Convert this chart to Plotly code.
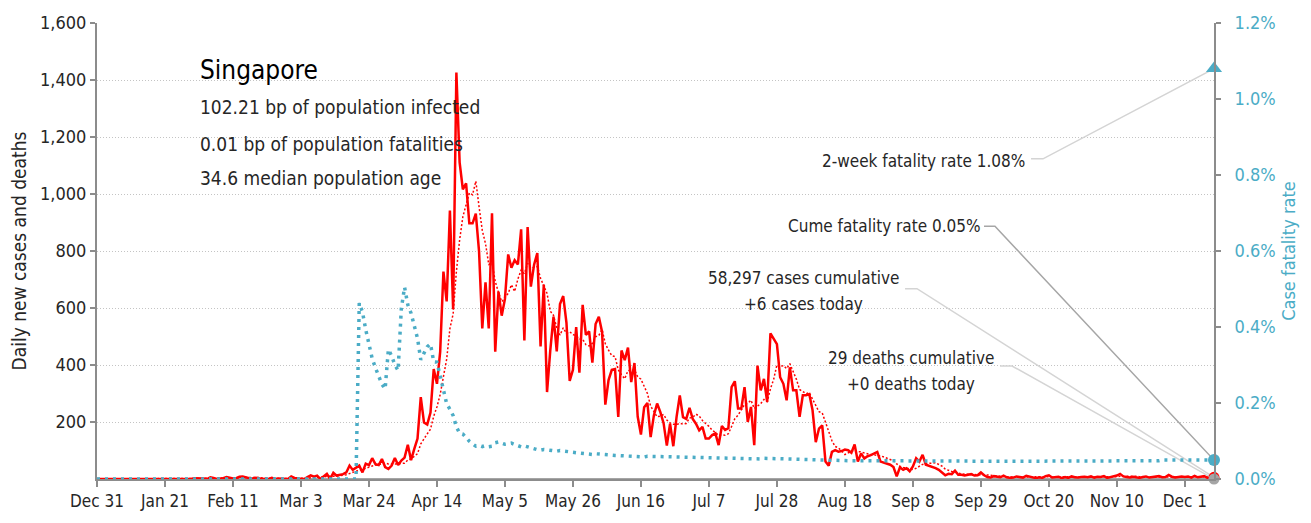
import pandas as pd
import plotly.graph_objects as go

# ---- data -------------------------------------------------------------
start_date = "2019-12-31"
end_date = "2020-12-10"

cases_dec2019 = [0]
cases_jan = [0, 0, 0, 0, 0, 0, 0, 0, 0, 0, 0, 0, 0, 0, 0, 0, 0, 0, 0, 0,
             0, 0, 1, 2, 0, 1, 1, 2, 0, 3, 3]
cases_feb = [3, 2, 0, 6, 4, 0, 2, 3, 7, 5, 2, 3, 8, 9, 5, 3, 2, 4, 3, 0,
             1, 0, 4, 0, 2, 2, 0, 0, 9]
cases_mar = [4, 2, 2, 0, 7, 13, 8, 12, 0, 10, 18, 0, 22, 12, 14, 17, 23, 47, 32, 40,
             47, 23, 54, 49, 73, 52, 49, 70, 42, 35, 47]
cases_apr = [74, 49, 65, 75, 120, 66, 106, 142, 287, 198, 191, 233, 386, 334, 447,
             728, 623, 942, 596, 1426, 1111, 1016, 1037, 897, 897, 931, 799, 528, 690, 528]
cases_may = [932, 447, 657, 573, 632, 788, 741, 768, 753, 876, 486, 884, 675, 752, 793,
             465, 682, 305, 451, 570, 448, 614, 642, 548, 344, 383, 533, 373, 611, 506, 518]
cases_jun = [408, 544, 569, 516, 261, 347, 383, 386, 218, 451, 417, 461, 340, 407, 219,
             156, 252, 267, 147, 223, 265, 235, 196, 117, 194, 115, 217, 293, 217, 211]
cases_jul = [250, 211, 194, 171, 183, 142, 142, 154, 160, 119, 186, 172, 178, 322, 343,
             247, 247, 322, 200, 253, 119, 398, 311, 351, 270, 511, 490, 473, 357, 334, 276]
cases_aug = [392, 311, 311, 218, 294, 294, 298, 242, 129, 177, 188, 61, 47, 95, 101,
             96, 98, 103, 101, 92, 121, 61, 90, 72, 80, 84, 89, 95, 61, 57, 55]
cases_sep = [50, 42, 9, 41, 32, 38, 27, 44, 73, 61, 85, 50, 46, 44, 38,
             32, 21, 13, 18, 17, 29, 15, 15, 12, 15, 17, 12, 13, 23, 13]
cases_oct = [7, 5, 10, 8, 6, 12, 6, 4, 5, 9, 7, 5, 11, 8, 5, 3, 6, 4, 10, 13,
             5, 6, 8, 3, 7, 4, 9, 6, 5, 7, 8]
cases_nov = [6, 9, 5, 8, 7, 10, 4, 6, 9, 12, 18, 9, 7, 5, 8, 6, 4, 7, 9, 5,
             6, 8, 10, 6, 7, 14, 8, 5, 6, 9]
cases_dec = [7, 9, 5, 11, 6, 8, 10, 4, 12, 6]

death_dates = ["2020-03-21", "2020-03-30", "2020-04-03", "2020-04-04", "2020-04-10",
               "2020-04-11", "2020-04-12", "2020-04-14", "2020-04-18", "2020-04-22",
               "2020-04-27", "2020-04-29", "2020-05-01", "2020-05-02", "2020-05-03",
               "2020-05-06", "2020-05-07", "2020-05-11", "2020-05-17", "2020-05-22",
               "2020-06-02", "2020-06-18", "2020-06-29", "2020-07-24", "2020-10-13",
               "2020-11-24"]
death_counts = [2, 1, 2, 1, 1, 1, 1, 1, 1, 1, 1, 1, 1, 2, 1, 1, 1, 1, 1, 1,
                1, 1, 1, 1, 1, 1]

two_week_fatality_rate = 0.0108

country = "Singapore"
info_lines = ["102.21 bp of population infected",
              "0.01 bp of population fatalities",
              "34.6 median population age"]

# ---- derived series ---------------------------------------------------
dates = pd.date_range(start_date, end_date, freq="D")
daily_cases = (cases_dec2019 + cases_jan + cases_feb + cases_mar + cases_apr + cases_may
               + cases_jun + cases_jul + cases_aug + cases_sep + cases_oct + cases_nov
               + cases_dec)
cases = pd.Series(daily_cases, index=dates, dtype=float)
deaths = pd.Series(0.0, index=dates)
deaths.loc[pd.to_datetime(death_dates)] = death_counts

avg7 = cases.rolling(7, min_periods=1).mean()
cum_cases = cases.cumsum()
cum_deaths = deaths.cumsum()
cfr = (cum_deaths / cum_cases.where(cum_cases > 0)).fillna(0.0)

last = dates[-1]
total_cases = int(cum_cases.iloc[-1])
total_deaths = int(cum_deaths.iloc[-1])
today_cases = int(cases.iloc[-1])
today_deaths = int(deaths.iloc[-1])
cume_rate = cfr.iloc[-1]

# ---- styling ----------------------------------------------------------
FONT = "Liberation Sans Narrow, DejaVu Sans Condensed, Arial Narrow, sans-serif"
TXT = "#262626"
RED = "#ff0000"
TEAL = "#4bacc6"
GREY = "#a5a5a5"
AXIS = "#8c8c8c"
LEAD_LIGHT = "#d4d4d4"
LEAD_DARK = "#a6a6a6"

Y_MAX = 1600
Y2_MAX = 0.012
x_start = pd.Timestamp(start_date)


def x_at(frac):
    """Date at a fraction of the x-axis span."""
    return x_start + (last - x_start) * frac


fig = go.Figure()

fig.add_trace(go.Scatter(x=dates, y=deaths, mode="lines",
                         line=dict(color=GREY, width=2), hoverinfo="skip"))
fig.add_trace(go.Scatter(x=dates, y=cases, mode="lines",
                         line=dict(color=RED, width=2.5), hoverinfo="skip"))
fig.add_trace(go.Scatter(x=dates, y=avg7, mode="lines",
                         line=dict(color=RED, width=1.5, dash="2px,2px"),
                         hoverinfo="skip"))
fig.add_trace(go.Scatter(x=dates, y=cfr, mode="lines", yaxis="y2",
                         line=dict(color=TEAL, width=3.5, dash="3px,5px"),
                         hoverinfo="skip"))

# leader lines: short horizontal stub from the label, then a diagonal to the end marker
leaders = [
    # (stub start frac, stub end frac, y frac, end value, axis, colour)
    (0.7234, 0.7341, 0.4174, today_cases, "y", LEAD_LIGHT),
    (0.8084, 0.8192, 0.2478, today_deaths, "y", LEAD_LIGHT),
    (0.7941, 0.8039, 0.5543, cume_rate, "y2", LEAD_DARK),
    (0.8362, 0.8469, 0.7022, two_week_fatality_rate, "y2", LEAD_LIGHT),
]
for f0, f1, fy, yend, ax, col in leaders:
    scale = Y_MAX if ax == "y" else Y2_MAX
    fig.add_trace(go.Scatter(
        x=[x_at(f0), x_at(f1), last], y=[fy * scale, fy * scale, yend],
        mode="lines", yaxis=ax, line=dict(color=col, width=1.5),
        hoverinfo="skip", cliponaxis=False))

# end markers
fig.add_trace(go.Scatter(x=[last], y=[today_cases], mode="markers", cliponaxis=False,
                         marker=dict(color=RED, size=11), hoverinfo="skip"))
fig.add_trace(go.Scatter(x=[last], y=[today_deaths], mode="markers", cliponaxis=False,
                         marker=dict(color=GREY, size=11), hoverinfo="skip"))
fig.add_trace(go.Scatter(x=[last], y=[cume_rate], mode="markers", yaxis="y2",
                         cliponaxis=False, marker=dict(color=TEAL, size=12),
                         hoverinfo="skip"))
fig.add_trace(go.Scatter(x=[last], y=[two_week_fatality_rate], mode="markers",
                         yaxis="y2", cliponaxis=False,
                         marker=dict(color=TEAL, size=14, symbol="triangle-up"),
                         hoverinfo="skip"))

tick_dates = pd.date_range(start_date, periods=17, freq="21D")

fig.update_layout(
    width=1311, height=523, autosize=False,
    margin=dict(l=97, r=97, t=21, b=42),
    plot_bgcolor="white", paper_bgcolor="white",
    showlegend=False,
    font=dict(family=FONT, color=TXT, size=16),
    xaxis=dict(
        range=[x_start, last], tickvals=tick_dates,
        ticktext=[d.strftime("%b %-d") for d in tick_dates],
        showgrid=False, showline=True, linecolor=AXIS, linewidth=2,
        ticks="outside", ticklen=6, tickcolor=AXIS, tickwidth=1.5,
        tickfont=dict(size=17, color=TXT), zeroline=False,
    ),
    yaxis=dict(
        range=[0, Y_MAX], tickvals=list(range(200, Y_MAX + 1, 200)),
        tickformat=",d", showgrid=True, gridcolor="#c4c4c4", griddash="1px,2px",
        gridwidth=1, showline=True, linecolor=AXIS, linewidth=2,
        ticks="outside", ticklen=5, tickcolor=AXIS, tickwidth=1.5,
        tickfont=dict(size=18, color=TXT), zeroline=False,
        title=dict(text="Daily new cases and deaths", font=dict(size=19, color=TXT),
                   standoff=8),
    ),
    yaxis2=dict(
        range=[0, Y2_MAX], overlaying="y", side="right", tickformat=".1%",
        dtick=0.002, showgrid=False, showline=True, linecolor=AXIS, linewidth=2,
        ticks="outside", ticklen=5, tickcolor=AXIS, tickwidth=1.5,
        ticklabelstandoff=10,
        tickfont=dict(size=18, color=TEAL), zeroline=False,
        title=dict(text="Case fatality rate", font=dict(size=18, color=TEAL),
                   standoff=8),
    ),
)

annotations = [
    dict(x=0.0904, y=0.8978, text=country, font=dict(size=26, color="#000000")),
    dict(x=0.0904, y=0.8152, text=info_lines[0], font=dict(size=19)),
    dict(x=0.0904, y=0.7348, text=info_lines[1], font=dict(size=19)),
    dict(x=0.0904, y=0.6609, text=info_lines[2], font=dict(size=19)),
]
for a in annotations:
    a.update(xref="paper", yref="paper", xanchor="left", yanchor="middle",
             showarrow=False)

labels = [
    dict(x=0.8326, y=0.6978, xanchor="right",
         text=f"2-week fatality rate {two_week_fatality_rate:.2%}"),
    dict(x=0.7932, y=0.5543, xanchor="right",
         text=f"Cume fatality rate {cume_rate:.2%}"),
    dict(x=0.6329, y=0.4413, xanchor="center",
         text=f"{total_cases:,} cases cumulative"),
    dict(x=0.6329, y=0.3848, xanchor="center", text=f"+{today_cases} cases today"),
    dict(x=0.7287, y=0.2652, xanchor="center",
         text=f"{total_deaths:,} deaths cumulative"),
    dict(x=0.7287, y=0.2087, xanchor="center", text=f"+{today_deaths} deaths today"),
]
for a in labels:
    a.update(xref="paper", yref="paper", yanchor="middle", showarrow=False,
             align="center", font=dict(size=17, color=TXT))
    annotations.append(a)

fig.update_layout(annotations=annotations)

fig.write_html("out.html")
